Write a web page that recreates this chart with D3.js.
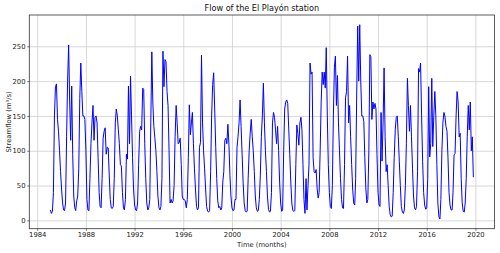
<!DOCTYPE html>
<html>
<head>
<meta charset="utf-8">
<script src="https://cdn.jsdelivr.net/npm/d3@7"></script>
<style>
  html, body { margin: 0; padding: 0; background: #fff; }
  svg { display: block; font-family: "DejaVu Sans", sans-serif; }
</style>
</head>
<body>
<div id="chart"></div>
<script>
// Monthly streamflow (m³/s), El Playón station, Feb 1985 – Nov 2019
const startYear = 1985, startMonth = 1; // February 1985 (0-based month)
const flow1985_1989 = [
  15, 10, 13, 40, 150, 192, 196, 145, 128, 100, 70,
  45, 25, 15, 14, 25, 120, 200, 252, 170, 115, 193, 95,
  35, 18, 14, 28, 35, 75, 175, 226, 185, 150, 150, 145,
  100, 30, 15, 14, 60, 110, 140, 165, 115, 148, 150, 140,
  90, 40, 20, 18, 60, 118, 128, 133, 95, 105, 104, 65
];
const flow1990_1999 = [
  30, 18, 17, 20, 60, 140, 160, 150, 130, 110, 80, 78,
  40, 18, 15, 30, 95, 88, 193, 110, 207, 150, 90, 45,
  22, 15, 14, 25, 80, 128, 135, 130, 190, 188, 110, 60,
  25, 15, 18, 30, 140, 242, 170, 135, 118, 100, 70, 35,
  18, 15, 20, 60, 243, 192, 231, 228, 185, 165, 100, 25,
  30, 25, 28, 50, 120, 165, 140, 110, 112, 118, 80, 35,
  30, 30, 28, 18, 30, 90, 166, 123, 140, 155, 110, 75,
  45, 20, 15, 18, 105, 112, 237, 140, 100, 75, 45, 20,
  13, 12, 14, 70, 150, 195, 212, 160, 105, 60, 28, 18,
  20, 15, 18, 55, 70, 115, 118, 110, 138, 110, 65, 35
];
const flow2000_2009 = [
  18, 14, 15, 30, 30, 105, 120, 140, 173, 135, 95, 55,
  25, 14, 12, 13, 60, 100, 125, 145, 120, 100, 70, 35,
  18, 13, 14, 30, 65, 120, 150, 197, 140, 100, 70, 35,
  16, 12, 13, 40, 140, 155, 148, 130, 110, 135, 100, 55,
  25, 13, 15, 100, 160, 170, 173, 168, 130, 95, 55, 25,
  14, 13, 14, 80, 137, 125, 108, 140, 148, 130, 80, 30,
  10, 60, 15, 50, 80, 226, 210, 213, 90, 70, 68, 73,
  45, 32, 40, 100, 170, 213, 195, 213, 190, 248, 150, 80,
  40, 20, 17, 50, 150, 220, 236, 165, 208, 140, 100, 60,
  30, 18, 17, 80, 176, 185, 236, 140, 165, 120, 80, 45
];
const flow2010_2019 = [
  25, 22, 60, 180, 279, 200, 281, 200, 150, 150, 142, 90,
  45, 25, 30, 100, 238, 235, 145, 170, 160, 168, 160, 95,
  40, 22, 20, 155, 85, 140, 219, 120, 70, 80, 50, 20,
  8, 5, 6, 40, 90, 130, 148, 150, 120, 85, 50, 20,
  12, 10, 15, 50, 110, 204, 165, 128, 165, 120, 75, 35,
  18, 15, 20, 70, 218, 213, 226, 150, 85, 40, 22, 16,
  18, 60, 192, 91, 110, 204, 106, 150, 185, 150, 80, 25,
  5, 2, 30, 100, 140, 155, 150, 135, 128, 90, 40, 22,
  15, 15, 40, 94, 96, 150, 185, 170, 120, 125, 60, 25,
  13, 12, 25, 60, 120, 165, 130, 170, 100, 120, 62
];
const xTickYears = [1984, 1988, 1992, 1996, 2000, 2004, 2008, 2012, 2016, 2020];
const yTickValues = [0, 50, 100, 150, 200, 250];
const titleText = "Flow of the El Playón station";
const xLabelText = "Time (months)";
const yLabelText = "Streamflow (m³/s)";

const values = [].concat(flow1985_1989, flow1990_1999, flow2000_2009, flow2010_2019);
const t0 = new Date(Date.UTC(startYear, startMonth, 1));
const data = values.map((v, i) => ({ date: d3.utcMonth.offset(t0, i), value: v }));

const W = 500, H = 253;
const margin = { left: 29.3, right: 5.5, top: 15, bottom: 24.3 };
const iw = W - margin.left - margin.right;
const ih = H - margin.top - margin.bottom;

const xExt = d3.extent(data, d => +d.date);
const xPad = (xExt[1] - xExt[0]) * 0.05;
const x = d3.scaleUtc().domain([new Date(xExt[0] - xPad), new Date(xExt[1] + xPad)]).range([0, iw]);
const yExt = d3.extent(data, d => d.value);
const yPad = (yExt[1] - yExt[0]) * 0.05;
const y = d3.scaleLinear().domain([yExt[0] - yPad, yExt[1] + yPad]).range([ih, 0]);

const svg = d3.select("#chart").append("svg").attr("width", W).attr("height", H);
svg.append("rect").attr("width", W).attr("height", H).attr("fill", "#fff");
const g = svg.append("g").attr("transform", `translate(${margin.left},${margin.top})`);

const xTicks = xTickYears.map(yr => new Date(Date.UTC(yr, 0, 1)));

// grid
g.append("g").attr("class", "grid")
  .attr("transform", `translate(0,${ih})`)
  .call(d3.axisBottom(x).tickValues(xTicks).tickSize(-ih).tickFormat(""))
  .call(s => s.select(".domain").remove())
  .call(s => s.selectAll("line").attr("stroke", "#d4d4d4").attr("stroke-width", 0.9));
g.append("g").attr("class", "grid")
  .call(d3.axisLeft(y).tickValues(yTickValues).tickSize(-iw).tickFormat(""))
  .call(s => s.select(".domain").remove())
  .call(s => s.selectAll("line").attr("stroke", "#d4d4d4").attr("stroke-width", 0.9));

// line
const clip = g.append("clipPath").attr("id", "clip").append("rect").attr("width", iw).attr("height", ih);
g.append("path").datum(data)
  .attr("clip-path", "url(#clip)")
  .attr("fill", "none")
  .attr("stroke", "#0000ff")
  .attr("stroke-width", 1)
  .attr("stroke-linejoin", "round")
  .attr("d", d3.line().x(d => x(d.date)).y(d => y(d.value)));

// axes
const fs = 6.8;
const xAxis = g.append("g").attr("transform", `translate(0,${ih})`)
  .call(d3.axisBottom(x).tickValues(xTicks).tickFormat(d3.utcFormat("%Y")).tickSize(2).tickPadding(1.8));
const yAxis = g.append("g")
  .call(d3.axisLeft(y).tickValues(yTickValues).tickSize(2).tickPadding(1.8));
[xAxis, yAxis].forEach(a => {
  a.select(".domain").remove();
  a.selectAll("line").attr("stroke", "#333").attr("stroke-width", 0.7);
  a.selectAll("text").attr("fill", "#222").style("font-size", fs + "px").style("font-family", "DejaVu Sans");
});

// frame
g.append("rect").attr("width", iw).attr("height", ih)
  .attr("fill", "none").attr("stroke", "#333").attr("stroke-width", 0.8);

// title & labels
svg.append("text").attr("x", margin.left + iw / 2).attr("y", 11.3)
  .attr("text-anchor", "middle").style("font-size", "8.1px").attr("fill", "#111")
  .text(titleText);
svg.append("text").attr("x", margin.left + iw / 2).attr("y", 246.5)
  .attr("text-anchor", "middle").style("font-size", fs + "px").attr("fill", "#222")
  .text(xLabelText);
svg.append("text")
  .attr("transform", `translate(10.5,${margin.top + ih / 2}) rotate(-90)`)
  .attr("text-anchor", "middle").style("font-size", fs + "px").attr("fill", "#222")
  .text(yLabelText);
</script>
</body>
</html>
